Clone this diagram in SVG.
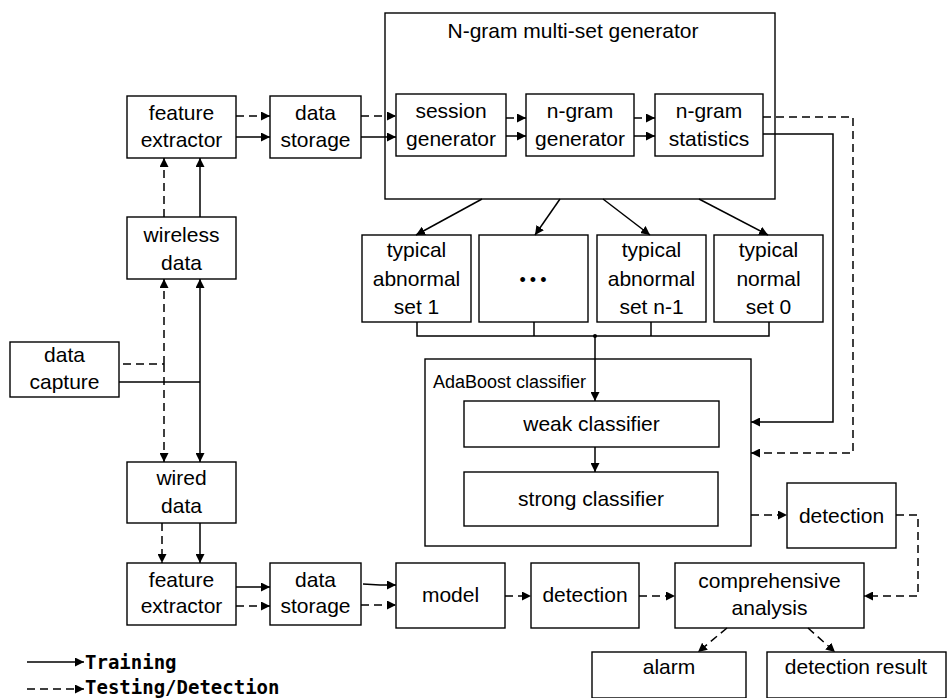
<svg xmlns="http://www.w3.org/2000/svg" width="947" height="698" viewBox="0 0 947 698">
<defs>
<marker id="ah" viewBox="0 0 10 10" refX="10" refY="5" markerWidth="9" markerHeight="9" markerUnits="userSpaceOnUse" orient="auto">
<path d="M0,0 L10,5 L0,10 Z" fill="#000"/>
</marker>
<style>
.b{fill:#fff;stroke:#000;stroke-width:1.4}
.t{font-family:"Liberation Sans",Arial,sans-serif;font-size:21px;fill:#000;text-anchor:middle}
.s{fill:none;stroke:#000;stroke-width:1.5}
.d{fill:none;stroke:#000;stroke-width:1.5;stroke-dasharray:8,5}
.a{marker-end:url(#ah)}
.lg{font-family:"DejaVu Sans Mono",monospace;font-weight:bold;font-size:19px;fill:#000}
</style>
</defs>
<rect width="947" height="698" fill="#fff"/>

<g id="ngram">
<rect class="b" x="385" y="13" width="390" height="186"/>
<text class="t" x="573" y="38">N-gram multi-set generator</text>
</g>
<g id="session">
<rect class="b" x="396" y="94" width="110" height="62"/>
<text class="t" x="451" y="118">session</text>
<text class="t" x="451" y="146">generator</text>
</g>
<g id="ngramgen">
<rect class="b" x="526" y="94" width="108" height="62"/>
<text class="t" x="580" y="118">n-gram</text>
<text class="t" x="580" y="146">generator</text>
</g>
<g id="ngramstat">
<rect class="b" x="655" y="94" width="108" height="62"/>
<text class="t" x="709" y="118">n-gram</text>
<text class="t" x="709" y="146">statistics</text>
</g>

<g id="fe1">
<rect class="b" x="127" y="96" width="109" height="62"/>
<text class="t" x="181.5" y="120">feature</text>
<text class="t" x="181.5" y="147">extractor</text>
</g>
<g id="ds1">
<rect class="b" x="270" y="96" width="91" height="62"/>
<text class="t" x="315.5" y="120">data</text>
<text class="t" x="315.5" y="147">storage</text>
</g>
<g id="wireless">
<rect class="b" x="127" y="217" width="109" height="62"/>
<text class="t" x="181.5" y="242">wireless</text>
<text class="t" x="181.5" y="270">data</text>
</g>
<g id="capture">
<rect class="b" x="10" y="342" width="109" height="55"/>
<text class="t" x="64.5" y="362">data</text>
<text class="t" x="64.5" y="389">capture</text>
</g>
<g id="wired">
<rect class="b" x="127" y="462" width="109" height="61"/>
<text class="t" x="181.5" y="485">wired</text>
<text class="t" x="181.5" y="513">data</text>
</g>
<g id="fe2">
<rect class="b" x="127" y="563" width="109" height="62"/>
<text class="t" x="181.5" y="587">feature</text>
<text class="t" x="181.5" y="613">extractor</text>
</g>
<g id="ds2">
<rect class="b" x="270" y="563" width="91" height="62"/>
<text class="t" x="315.5" y="587">data</text>
<text class="t" x="315.5" y="613">storage</text>
</g>
<g id="model">
<rect class="b" x="396" y="563" width="109" height="65"/>
<text class="t" x="450.5" y="602">model</text>
</g>
<g id="det1">
<rect class="b" x="531" y="563" width="108" height="65"/>
<text class="t" x="585" y="602">detection</text>
</g>
<g id="comp">
<rect class="b" x="675" y="563" width="189" height="65"/>
<text class="t" x="769.5" y="588">comprehensive</text>
<text class="t" x="769.5" y="615">analysis</text>
</g>
<g id="det2">
<rect class="b" x="787" y="483" width="109" height="65"/>
<text class="t" x="841.5" y="523">detection</text>
</g>
<g id="alarm">
<rect class="b" x="592" y="652" width="154" height="46"/>
<text class="t" x="669" y="674">alarm</text>
</g>
<g id="result">
<rect class="b" x="767" y="652" width="179" height="46"/>
<text class="t" x="856" y="674">detection result</text>
</g>

<g id="set1">
<rect class="b" x="362" y="235" width="109" height="87"/>
<text class="t" x="416.5" y="257">typical</text>
<text class="t" x="416.5" y="286">abnormal</text>
<text class="t" x="416.5" y="314">set 1</text>
</g>
<g id="setdots">
<rect class="b" x="479" y="235" width="109" height="87"/>
<text class="t" x="535" y="286" style="font-size:18px;letter-spacing:4px">•••</text>
</g>
<g id="setn1">
<rect class="b" x="597" y="235" width="109" height="87"/>
<text class="t" x="651.5" y="257">typical</text>
<text class="t" x="651.5" y="286">abnormal</text>
<text class="t" x="651.5" y="314">set n-1</text>
</g>
<g id="set0">
<rect class="b" x="714" y="235" width="109" height="87"/>
<text class="t" x="768.5" y="257">typical</text>
<text class="t" x="768.5" y="286">normal</text>
<text class="t" x="768.5" y="314">set 0</text>
</g>

<g id="adaboost">
<rect class="b" x="425" y="359" width="326" height="187"/>
<text x="433" y="388" style="font-family:'Liberation Sans',Arial,sans-serif;font-size:18px">AdaBoost classifier</text>
</g>
<g id="weak">
<rect class="b" x="464" y="401" width="255" height="46"/>
<text class="t" x="591.5" y="431">weak classifier</text>
</g>
<g id="strong">
<rect class="b" x="464" y="472" width="254" height="54"/>
<text class="t" x="591" y="506">strong classifier</text>
</g>

<g id="connectors">
<line class="d a" x1="236" y1="116" x2="270" y2="116"/>
<line class="s a" x1="236" y1="137" x2="270" y2="137"/>
<line class="d a" x1="361" y1="116" x2="396" y2="116"/>
<line class="s a" x1="361" y1="137" x2="396" y2="137"/>
<line class="d a" x1="506" y1="118" x2="526" y2="118"/>
<line class="s a" x1="506" y1="136" x2="526" y2="136"/>
<line class="d a" x1="634" y1="118" x2="655" y2="118"/>
<line class="s a" x1="634" y1="136" x2="655" y2="136"/>
<line class="d a" x1="164" y1="217" x2="164" y2="158"/>
<line class="s a" x1="200" y1="217" x2="200" y2="158"/>
<line class="d a" x1="164" y1="364" x2="164" y2="279"/>
<line class="d a" x1="164" y1="364" x2="164" y2="462"/>
<line class="d" x1="123" y1="364" x2="164" y2="364"/>
<line class="s a" x1="200" y1="382" x2="200" y2="279"/>
<line class="s a" x1="200" y1="382" x2="200" y2="462"/>
<line class="s" x1="119" y1="382" x2="200" y2="382"/>
<line class="d a" x1="162" y1="523" x2="162" y2="563"/>
<line class="s a" x1="200" y1="523" x2="200" y2="563"/>
<line class="s a" x1="236" y1="587" x2="270" y2="587"/>
<line class="d a" x1="236" y1="606" x2="270" y2="606"/>
<polyline class="s a" points="363,584 380,585 396,585"/>
<line class="d a" x1="361" y1="605" x2="396" y2="605"/>
<line class="d a" x1="505" y1="596" x2="531" y2="596"/>
<line class="d a" x1="639" y1="596" x2="675" y2="596"/>
<line class="d a" x1="751" y1="515" x2="787" y2="515"/>
<polyline class="d a" points="896,515 918,515 918,596 864,596"/>
<line class="d a" x1="727" y1="628" x2="698" y2="652"/>
<line class="d a" x1="808" y1="628" x2="835" y2="652"/>
<line class="s a" x1="482" y1="199" x2="416" y2="235"/>
<line class="s a" x1="560" y1="199" x2="535" y2="235"/>
<line class="s a" x1="603" y1="199" x2="650" y2="235"/>
<line class="s a" x1="699" y1="199" x2="768" y2="235"/>
<polyline class="s" points="417,322 417,336 769,336 769,322"/>
<line class="s" x1="534" y1="322" x2="534" y2="336"/>
<line class="s" x1="651" y1="322" x2="651" y2="336"/>
<circle cx="595" cy="336" r="2" fill="#000"/>
<line class="s a" x1="595" y1="336" x2="595" y2="401"/>
<line class="s a" x1="595" y1="447" x2="595" y2="472"/>
<polyline class="s a" points="763,134 833,134 833,422 751,422"/>
<polyline class="d a" points="763,117 853,117 853,453 751,453"/>
<line class="s a" x1="27" y1="662" x2="84" y2="662"/>
<line class="d a" x1="27" y1="689" x2="84" y2="689"/>
</g>
<text class="lg" x="85" y="669">Training</text>
<text class="lg" x="85" y="694">Testing/Detection</text>
</svg>
